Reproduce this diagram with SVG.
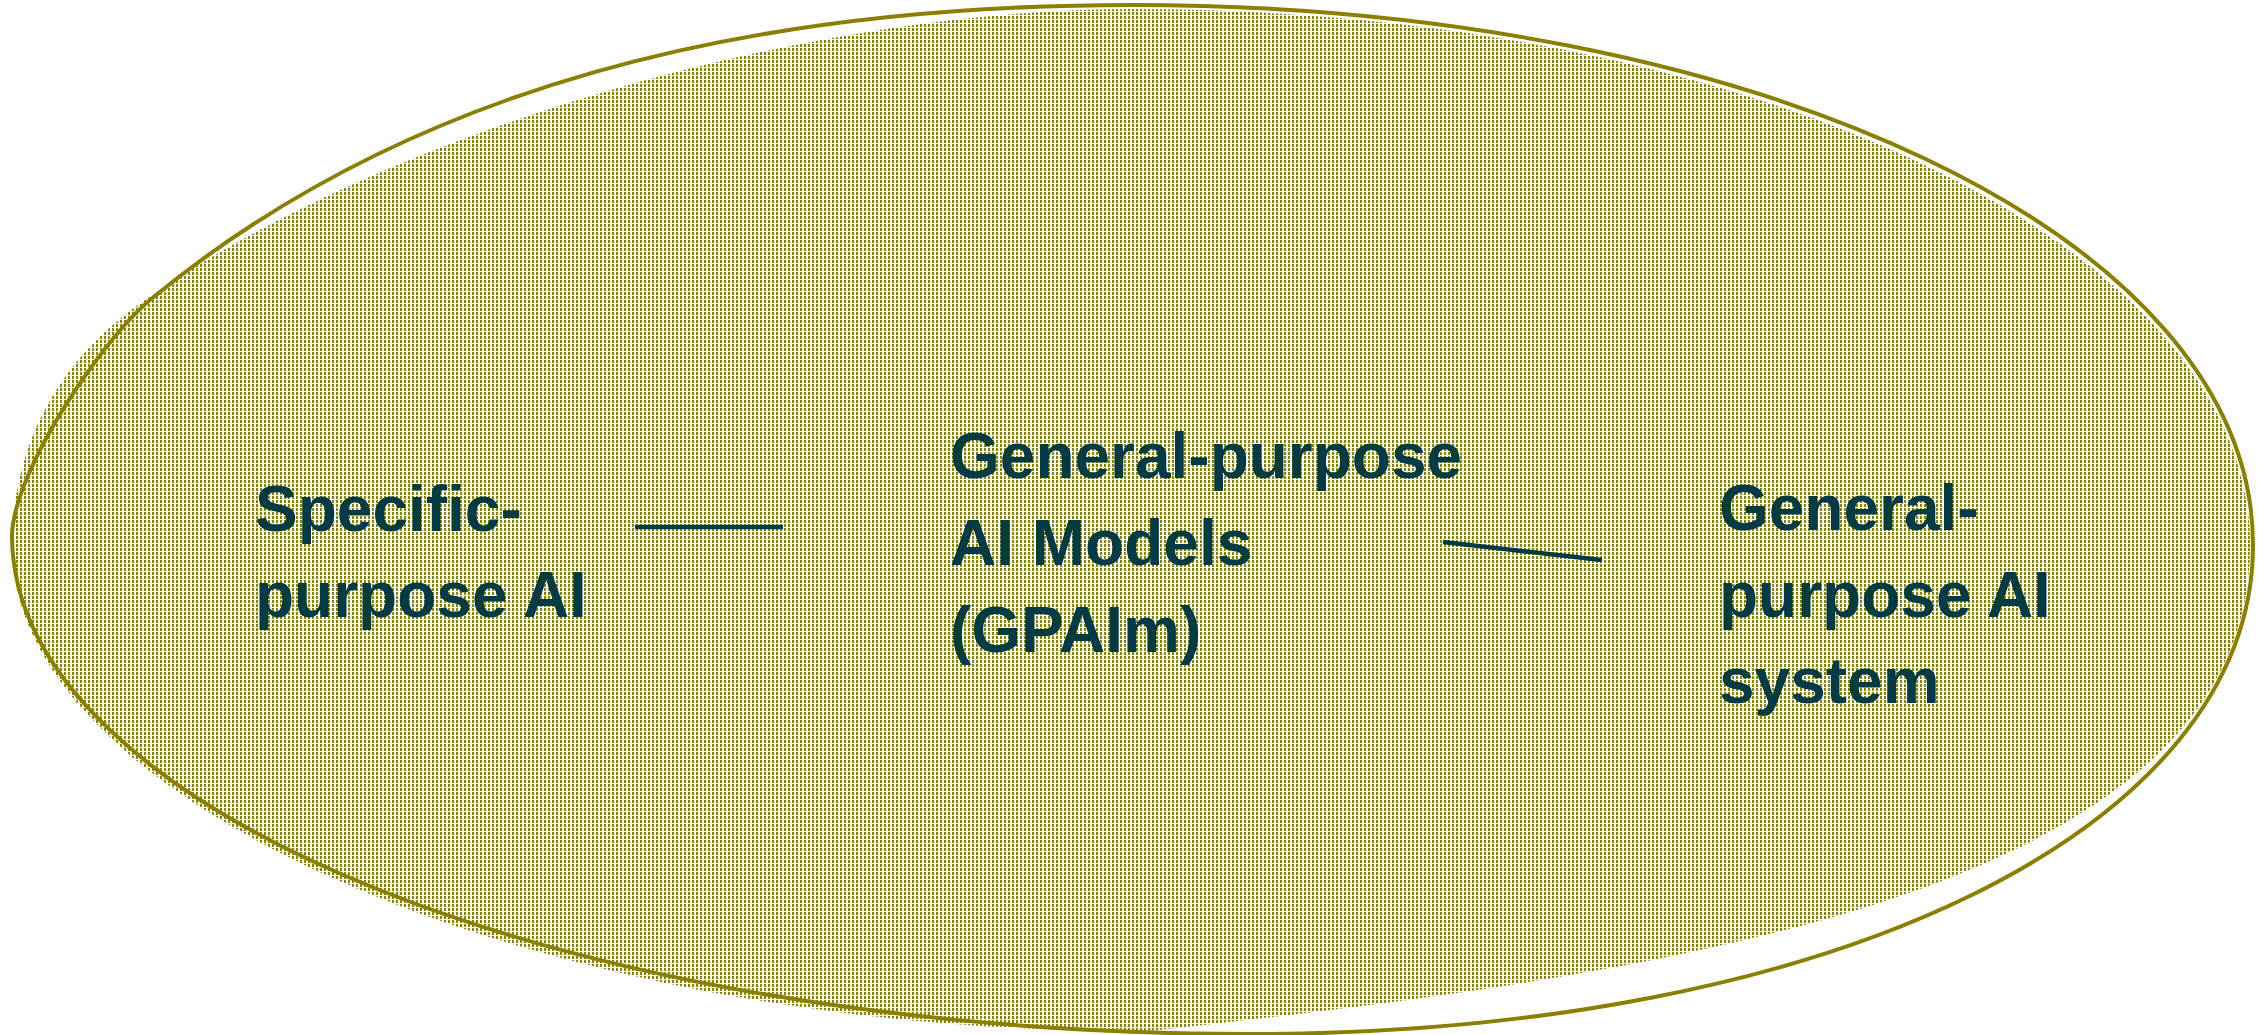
<svg xmlns="http://www.w3.org/2000/svg" width="2267" height="1035" viewBox="0 0 2267 1035">
<style>
.lbl{font-family:"Liberation Sans",Arial,sans-serif;font-weight:bold;font-size:64px;fill:#023a46}
.conn{stroke:#023a46;stroke-width:4.5;fill:none}
.rim{fill:none;stroke:#8a7f00;stroke-width:4}
</style>
<defs>
<pattern id="dots" width="4" height="4" patternUnits="userSpaceOnUse">
<rect x="0" y="0" width="2" height="3" fill="#8c8300"/>
</pattern>
</defs>
<rect width="2267" height="1035" fill="#ffffff"/>
<g id="scope">
<path d="M12,545 C14,420 80,345 145,300 C380,135 800,9 1133,9 C1752,9 2250,245 2250,545 C2250,900 1650,975 1150,1031 C560,1035 12,812 12,545 Z" fill="url(#dots)"/>
<path class="rim" d="M12,535 C14,470 102,340 150,300 C410,85 750,5 1133,5 C1752,5 2253,235 2253,545 C2253,829 1832,1034 1250,1034 C566,1034 12,811 12,535 Z"/>
</g>
<g id="connectors">
<line class="conn" x1="635" y1="527" x2="783" y2="527"/>
<line class="conn" x1="1443" y1="542" x2="1602" y2="560"/>
</g>
<g id="node-specific">
<text class="lbl" x="255" y="531">Specific-</text>
<text class="lbl" x="255" y="617">purpose AI</text>
</g>
<g id="node-gpaim">
<text class="lbl" x="950" y="478">General-purpose</text>
<text class="lbl" x="950" y="565">AI Models</text>
<text class="lbl" x="950" y="652">(GPAIm)</text>
</g>
<g id="node-gpais">
<text class="lbl" x="1719" y="530">General-</text>
<text class="lbl" x="1719" y="617">purpose AI</text>
<text class="lbl" x="1719" y="703">system</text>
</g>
</svg>
